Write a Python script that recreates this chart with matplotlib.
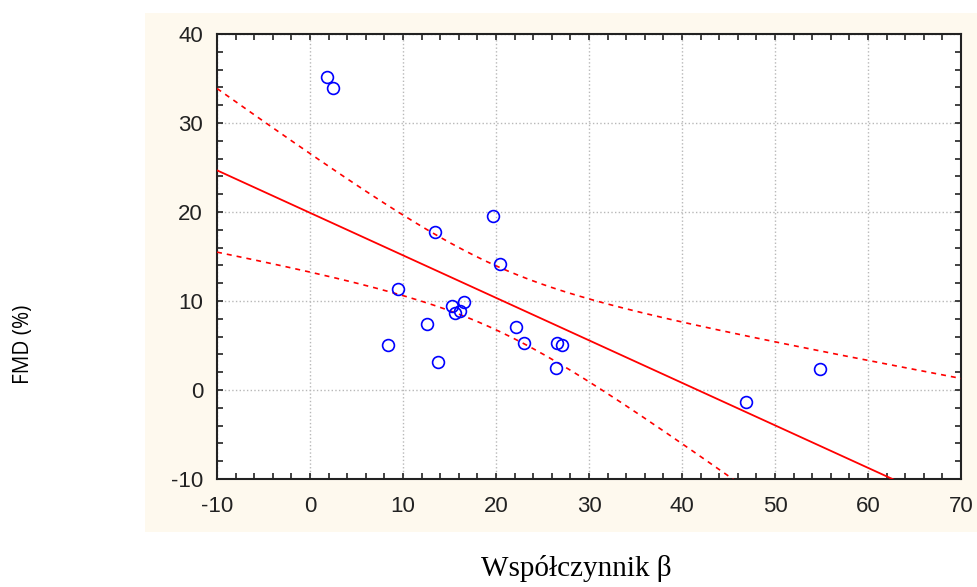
import numpy as np
import matplotlib.pyplot as plt
from matplotlib.patches import Rectangle
from matplotlib.ticker import MultipleLocator

plt.rcParams['axes.unicode_minus'] = False

# Współczynnik beta vs FMD (%)
beta = [1.84, 2.5, 13.4, 19.7, 20.4, 9.45, 16.6, 15.3, 16.1, 15.55,
        12.6, 8.4, 13.8, 22.15, 23.05, 26.6, 27.1, 26.5, 54.8, 46.9]
fmd = [35.2, 33.9, 17.8, 19.6, 14.2, 11.3, 9.85, 9.4, 8.9, 8.6,
       7.4, 5.1, 3.1, 7.1, 5.3, 5.3, 5.1, 2.5, 2.35, -1.4]

x = np.array(beta)
y = np.array(fmd)
n = len(x)

# linear fit + 95% confidence band for the mean
slope, intercept = np.polyfit(x, y, 1)
resid = y - (slope * x + intercept)
s = np.sqrt(np.sum(resid ** 2) / (n - 2))
sxx = np.sum((x - x.mean()) ** 2)
t_crit = 2.101  # t(0.975, df=18)

xs = np.linspace(-10, 70, 400)
fit = slope * xs + intercept
half = t_crit * s * np.sqrt(1 / n + (xs - x.mean()) ** 2 / sxx)

fig = plt.figure(figsize=(9.77, 5.87), dpi=100)
fig.patch.set_facecolor('white')

# cream panel behind the plot
fig.patches.append(Rectangle((145 / 977, 1 - 532 / 587), 1 - 145 / 977, (532 - 13) / 587,
                             transform=fig.transFigure, facecolor='#fef9ee',
                             edgecolor='none', zorder=-5))

ax = fig.add_axes([217 / 977, 1 - 479 / 587, (961 - 217) / 977, (479 - 34) / 587])
ax.set_zorder(2)
ax.set_facecolor('white')

ax.plot(xs, fit, color='#ff0000', lw=1.3, zorder=3)
ax.plot(xs, fit + half, color='#ff0000', lw=1.2, dashes=(3, 3), zorder=3)
ax.plot(xs, fit - half, color='#ff0000', lw=1.2, dashes=(3, 3), zorder=3)
ax.plot(x, y, 'o', ms=8.5, mfc='none', mec='#0000ff', mew=1.2, zorder=4)

ax.set_xlim(-10, 70)
ax.set_ylim(-10, 40)
ax.xaxis.set_major_locator(MultipleLocator(10))
ax.xaxis.set_minor_locator(MultipleLocator(2))
ax.yaxis.set_major_locator(MultipleLocator(10))
ax.yaxis.set_minor_locator(MultipleLocator(2))

ax.grid(True, which='major', color='#b8b8b8', linestyle=':', lw=1.0)
ax.tick_params(which='both', direction='in', top=True, right=True,
               length=4, width=1.2, color='#222222')
ax.tick_params(which='major', labelsize=16, labelcolor='#222222')
ax.tick_params(axis='x', which='major', pad=12)
ax.tick_params(axis='y', which='major', pad=10)
for lab in ax.get_xticklabels() + ax.get_yticklabels():
    lab.set_family('Liberation Sans')
for sp in ax.spines.values():
    sp.set_linewidth(1.5)
    sp.set_color('#222222')

fig.text(23 / 977, 1 - 344 / 587, 'FMD (%)', rotation=90, ha='center', va='center',
         fontsize=15, family='Open Sans', color='black')
fig.text(576 / 977, 1 - 568 / 587, 'Współczynnik β', ha='center', va='center',
         fontsize=21, family='Liberation Serif', color='black')

fig.savefig('out.png', dpi=100)
